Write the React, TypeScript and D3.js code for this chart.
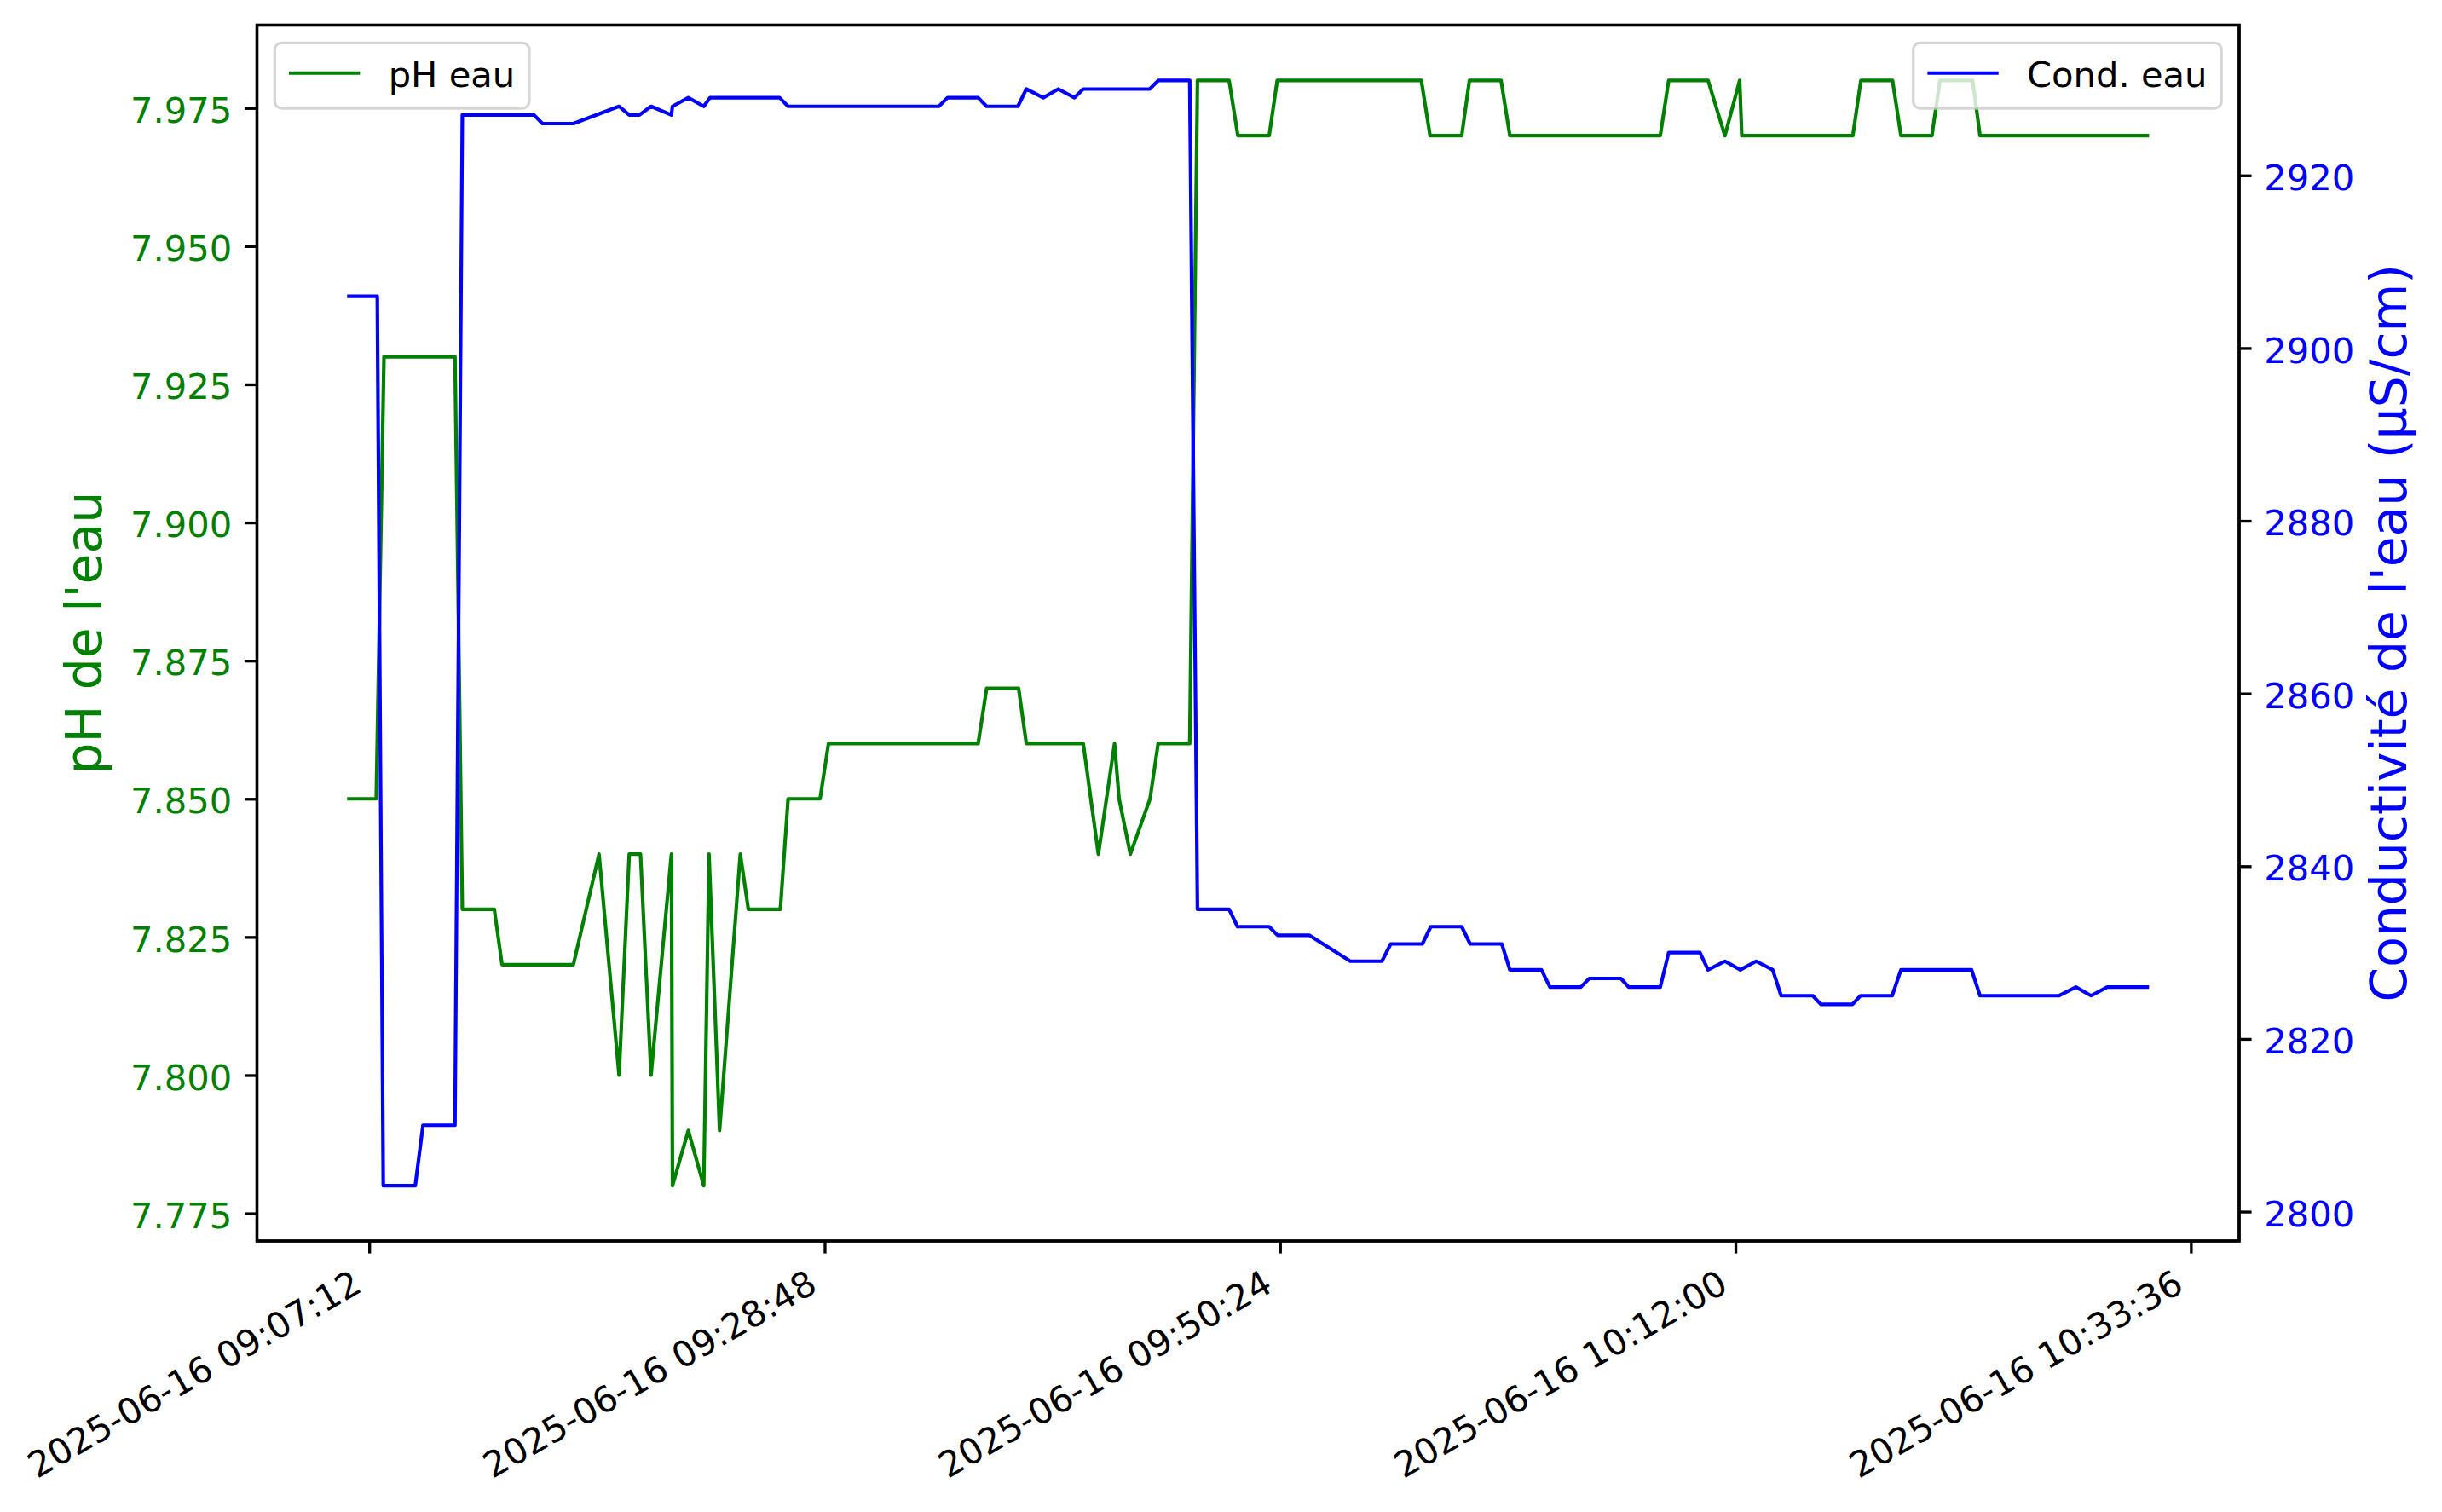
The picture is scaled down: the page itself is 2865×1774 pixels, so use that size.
import React, { useEffect, useRef } from 'react';
import * as d3 from 'd3';

// pH readings (vertices of the plotted line), clock times on 2025-06-16
const phTimes = [
  '09:06:09', '09:07:32', '09:07:54', '09:11:16', '09:11:37', '09:13:08', '09:13:30', '09:16:53',
  '09:18:06', '09:19:03', '09:19:32', '09:20:04', '09:20:34', '09:21:32', '09:21:35', '09:22:20',
  '09:23:04', '09:23:19', '09:23:49', '09:24:48', '09:25:11', '09:26:42', '09:27:04', '09:28:35',
  '09:28:59', '09:36:05', '09:36:29', '09:38:00', '09:38:22', '09:41:04', '09:41:47', '09:42:33',
  '09:42:46', '09:43:18', '09:44:14', '09:44:37', '09:46:07', '09:46:29', '09:47:59', '09:48:24',
  '09:49:53', '09:50:16', '09:57:06', '09:57:31', '09:59:01', '09:59:23', '10:00:53', '10:01:18',
  '10:08:26', '10:08:50', '10:10:42', '10:11:30', '10:12:12', '10:12:18', '10:17:34', '10:17:57',
  '10:19:27', '10:19:51', '10:21:19', '10:21:42', '10:23:15', '10:23:36', '10:31:37',
];
const phValues = [
  7.85, 7.85, 7.93, 7.93, 7.83, 7.83, 7.82, 7.82,
  7.84, 7.80, 7.84, 7.84, 7.80, 7.84, 7.78, 7.79,
  7.78, 7.84, 7.79, 7.84, 7.83, 7.83, 7.85, 7.85,
  7.86, 7.86, 7.87, 7.87, 7.86, 7.86, 7.84, 7.86,
  7.85, 7.84, 7.85, 7.86, 7.86, 7.98, 7.98, 7.97,
  7.97, 7.98, 7.98, 7.97, 7.97, 7.98, 7.98, 7.97,
  7.97, 7.98, 7.98, 7.97, 7.98, 7.97, 7.97, 7.98,
  7.98, 7.97, 7.97, 7.98, 7.98, 7.97, 7.97,
];

// conductivity readings (µS/cm)
const condTimes = [
  '09:06:09', '09:07:35', '09:07:52', '09:09:23', '09:09:45', '09:11:16', '09:11:37', '09:15:01',
  '09:15:25', '09:16:53', '09:19:03', '09:19:32', '09:20:01', '09:20:34', '09:21:32', '09:21:35',
  '09:22:20', '09:23:04', '09:23:22', '09:26:40', '09:27:04', '09:34:13', '09:34:38', '09:36:05',
  '09:36:29', '09:37:58', '09:38:22', '09:39:10', '09:39:53', '09:40:39', '09:41:04', '09:44:13',
  '09:44:38', '09:46:07', '09:46:29', '09:47:59', '09:48:23', '09:49:53', '09:50:17', '09:51:47',
  '09:53:44', '09:55:14', '09:55:39', '09:57:09', '09:57:33', '09:59:01', '09:59:25', '10:00:55',
  '10:01:18', '10:02:48', '10:03:12', '10:04:40', '10:05:04', '10:06:34', '10:06:56', '10:08:26',
  '10:08:50', '10:10:19', '10:10:42', '10:11:30', '10:12:14', '10:12:59', '10:13:46', '10:14:10',
  '10:15:40', '10:16:03', '10:17:33', '10:17:56', '10:19:26', '10:19:51', '10:23:12', '10:23:36',
  '10:27:20', '10:28:09', '10:28:52', '10:29:38', '10:31:37',
];
const condValues = [
  2906, 2906, 2803, 2803, 2810, 2810, 2927, 2927,
  2926, 2926, 2928, 2927, 2927, 2928, 2927, 2928,
  2929, 2928, 2929, 2929, 2928, 2928, 2929, 2929,
  2928, 2928, 2930, 2929, 2930, 2929, 2930, 2930,
  2931, 2931, 2835, 2835, 2833, 2833, 2832, 2832,
  2829, 2829, 2831, 2831, 2833, 2833, 2831, 2831,
  2828, 2828, 2826, 2826, 2827, 2827, 2826, 2826,
  2830, 2830, 2828, 2829, 2828, 2829, 2828, 2825,
  2825, 2824, 2824, 2825, 2825, 2828, 2828, 2825,
  2825, 2826, 2825, 2826, 2826,
];

const xTickTimes = ['09:07:12', '09:28:48', '09:50:24', '10:12:00', '10:33:36'];
const phTicks = [7.775, 7.8, 7.825, 7.85, 7.875, 7.9, 7.925, 7.95, 7.975];
const condTicks = [2800, 2820, 2840, 2860, 2880, 2900, 2920];

const WIDTH = 2865;
const HEIGHT = 1774;
const PT = 300 / 72;
const FONT = '"DejaVu Sans", sans-serif';
const TICK_FS = 10 * PT;
const LABEL_FS = 14 * PT;
const TICK_LEN = 3.5 * PT;
const TICK_PAD = 3.5 * PT;
const SPINE_W = 0.8 * PT;
const LINE_W = 1 * PT;
const GREEN = '#008000';
const BLUE = '#0000ff';

const plot = { left: 301.5, right: 2627, top: 29.5, bottom: 1456 };

interface Point {
  t: Date;
  v: number;
}

const parseTime = (s: string) => {
  const [h, m, sec] = s.split(':').map(Number);
  return new Date(2025, 5, 16, h, m, sec);
};

const padExtent = (values: number[]): [number, number] => {
  const [lo, hi] = d3.extent(values) as [number, number];
  const p = (hi - lo) * 0.05;
  return [lo - p, hi + p];
};

export default function App() {
  const svgRef = useRef<SVGSVGElement>(null);

  useEffect(() => {
    if (!svgRef.current) return;
    const svg = d3.select(svgRef.current);
    svg.selectAll('*').remove();

    svg.append('rect').attr('width', WIDTH).attr('height', HEIGHT).attr('fill', '#fff');

    const phData: Point[] = phTimes.map((t, i) => ({ t: parseTime(t), v: phValues[i] }));
    const condData: Point[] = condTimes.map((t, i) => ({ t: parseTime(t), v: condValues[i] }));

    // scales, with matplotlib's 5% margins
    const [tLo, tHi] = padExtent([...phData, ...condData].map(d => d.t.getTime()));
    const x = d3.scaleTime().domain([new Date(tLo), new Date(tHi)]).range([plot.left, plot.right]);
    const yPh = d3.scaleLinear().domain(padExtent(phValues)).range([plot.bottom, plot.top]);
    const yCond = d3.scaleLinear().domain(padExtent(condValues)).range([plot.bottom, plot.top]);

    const spines = () =>
      svg.append('rect')
        .attr('x', plot.left)
        .attr('y', plot.top)
        .attr('width', plot.right - plot.left)
        .attr('height', plot.bottom - plot.top)
        .attr('fill', 'none')
        .attr('stroke', '#000')
        .attr('stroke-width', SPINE_W);

    const drawLegend = (label: string, color: string, side: 'left' | 'right') => {
      const axPad = 0.5 * TICK_FS;
      const borderPad = 0.4 * TICK_FS;
      const handleLen = 2 * TICK_FS;
      const handlePad = 0.8 * TICK_FS;
      const g = svg.append('g');
      const frame = g.append('rect');
      const text = g.append('text')
        .text(label)
        .attr('font-family', FONT)
        .attr('font-size', TICK_FS)
        .attr('fill', '#000');
      const tw = (text.node() as SVGTextElement).getComputedTextLength();
      const w = 2 * borderPad + handleLen + handlePad + tw;
      const h = 76.7;
      const bx = side === 'left' ? plot.left + axPad : plot.right - axPad - w;
      const by = plot.top + axPad;
      frame
        .attr('x', bx)
        .attr('y', by)
        .attr('width', w)
        .attr('height', h)
        .attr('rx', 8)
        .attr('fill', '#fff')
        .attr('fill-opacity', 0.8)
        .attr('stroke', '#cccccc')
        .attr('stroke-opacity', 0.8)
        .attr('stroke-width', SPINE_W);
      g.append('line')
        .attr('x1', bx + borderPad)
        .attr('x2', bx + borderPad + handleLen)
        .attr('y1', by + 35.4)
        .attr('y2', by + 35.4)
        .attr('stroke', color)
        .attr('stroke-width', LINE_W);
      text.attr('x', bx + borderPad + handleLen + handlePad).attr('y', by + 51.7);
    };

    // pH line (first axes)
    const phLine = d3.line<Point>().x(d => x(d.t)).y(d => yPh(d.v));
    svg.append('path')
      .datum(phData)
      .attr('fill', 'none')
      .attr('stroke', GREEN)
      .attr('stroke-width', LINE_W)
      .attr('stroke-linejoin', 'round')
      .attr('d', phLine);

    spines();

    // X axis
    const fmt = d3.timeFormat('%Y-%m-%d %H:%M:%S');
    const xAxis = svg.append('g')
      .attr('transform', `translate(0, ${plot.bottom})`)
      .call(d3.axisBottom(x)
        .tickValues(xTickTimes.map(parseTime))
        .tickFormat(d => fmt(d as Date))
        .tickSize(TICK_LEN)
        .tickSizeOuter(0))
      .attr('font-family', FONT)
      .attr('font-size', TICK_FS)
      .attr('color', '#000');
    xAxis.select('.domain').remove();
    xAxis.selectAll('.tick line').attr('stroke-width', SPINE_W);
    xAxis.selectAll('.tick text')
      .attr('y', null)
      .attr('dy', null)
      .attr('text-anchor', 'end')
      .attr('transform', 'translate(-7, 58) rotate(-30)');

    // left Y axis
    const yLeft = svg.append('g')
      .attr('transform', `translate(${plot.left}, 0)`)
      .call(d3.axisLeft(yPh)
        .tickValues(phTicks)
        .tickFormat(d3.format('.3f'))
        .tickSize(TICK_LEN)
        .tickPadding(TICK_PAD)
        .tickSizeOuter(0))
      .attr('font-family', FONT)
      .attr('font-size', TICK_FS)
      .attr('color', GREEN);
    yLeft.select('.domain').remove();
    yLeft.selectAll('.tick line').attr('stroke', '#000').attr('stroke-width', SPINE_W);
    yLeft.selectAll('.tick text').attr('dy', '0.4em');

    svg.append('text')
      .attr('transform', `translate(119, ${(plot.top + plot.bottom) / 2}) rotate(-90)`)
      .attr('text-anchor', 'middle')
      .attr('font-family', FONT)
      .attr('font-size', LABEL_FS)
      .attr('fill', GREEN)
      .text("pH de l'eau");

    drawLegend('pH eau', GREEN, 'left');

    // conductivity line (twin axes)
    const condLine = d3.line<Point>().x(d => x(d.t)).y(d => yCond(d.v));
    svg.append('path')
      .datum(condData)
      .attr('fill', 'none')
      .attr('stroke', BLUE)
      .attr('stroke-width', LINE_W)
      .attr('stroke-linejoin', 'round')
      .attr('d', condLine);

    spines();

    const yRight = svg.append('g')
      .attr('transform', `translate(${plot.right}, 0)`)
      .call(d3.axisRight(yCond)
        .tickValues(condTicks)
        .tickFormat(d3.format('d'))
        .tickSize(TICK_LEN)
        .tickPadding(TICK_PAD)
        .tickSizeOuter(0))
      .attr('font-family', FONT)
      .attr('font-size', TICK_FS)
      .attr('color', BLUE);
    yRight.select('.domain').remove();
    yRight.selectAll('.tick line').attr('stroke', '#000').attr('stroke-width', SPINE_W);
    yRight.selectAll('.tick text').attr('dy', '0.4em');

    svg.append('text')
      .attr('transform', `translate(2823, ${(plot.top + plot.bottom) / 2}) rotate(-90)`)
      .attr('text-anchor', 'middle')
      .attr('font-family', FONT)
      .attr('font-size', LABEL_FS)
      .attr('fill', BLUE)
      .text("Conductivité de l'eau (µS/cm)");

    drawLegend('Cond. eau', BLUE, 'right');
  }, []);

  return (
    <svg
      ref={svgRef}
      width={WIDTH}
      height={HEIGHT}
      viewBox={`0 0 ${WIDTH} ${HEIGHT}`}
      style={{ position: 'absolute', left: 0, top: 0, display: 'block' }}
    />
  );
}
